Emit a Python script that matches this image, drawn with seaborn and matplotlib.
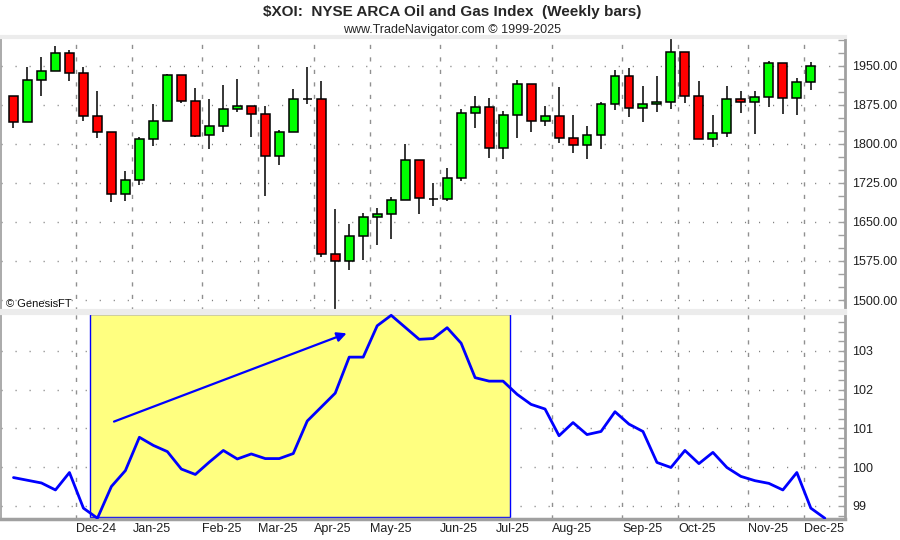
import numpy as np
import pandas as pd
import matplotlib
matplotlib.use('Agg')
import matplotlib.pyplot as plt
import seaborn as sns
from matplotlib.ticker import MultipleLocator, FormatStrFormatter, AutoMinorLocator
from matplotlib.patches import Rectangle

# weekly bars, week ending Friday
weeks = pd.date_range('2024-11-01', periods=59, freq='W-FRI')

opens = [1891.3, 1841.4, 1921.9, 1939.2, 1973.7, 1935.4, 1852.9, 1822.2, 1703.3, 1730.1,
         1808.8, 1843.9, 1932.2, 1881.7, 1816.4, 1833.7, 1866.3, 1872.1, 1856.7, 1776.1,
         1822.2, 1885.5, 1885.5, 1588.2, 1574.8, 1622.7, 1659.1, 1664.9, 1691.8, 1768.5,
         1694.3, 1693.1, 1734.0, 1858.7, 1870.2, 1791.5, 1854.8, 1914.3, 1843.3, 1852.9,
         1810.7, 1797.3, 1816.4, 1876.5, 1929.6, 1868.2, 1875.9, 1880.4, 1975.7, 1891.3,
         1808.8, 1820.3, 1885.5, 1879.7, 1889.3, 1954.6, 1887.4, 1918.1]
closes = [1841.4, 1921.9, 1939.2, 1973.7, 1935.4, 1852.9, 1822.2, 1703.3, 1730.1, 1808.8,
          1843.9, 1932.2, 1881.7, 1815.8, 1833.7, 1866.3, 1872.1, 1856.7, 1776.1, 1822.2,
          1885.5, 1885.5, 1588.2, 1574.8, 1622.7, 1659.1, 1664.9, 1691.8, 1768.5, 1695.0,
          1694.3, 1734.0, 1858.7, 1870.2, 1791.5, 1854.8, 1914.3, 1843.3, 1852.9, 1810.7,
          1797.3, 1816.4, 1876.5, 1929.6, 1868.2, 1875.9, 1880.4, 1975.7, 1891.3, 1808.8,
          1820.3, 1885.5, 1879.7, 1889.3, 1954.6, 1887.4, 1918.1, 1948.8]
highs = [1891.3, 1947.5, 1966.7, 1987.8, 1980.1, 1947.5, 1901.5, 1822.2, 1748.0, 1812.6,
         1876.5, 1934.7, 1932.2, 1906.6, 1886.1, 1913.0, 1923.9, 1872.1, 1872.1, 1826.7,
         1905.3, 1947.5, 1920.7, 1674.5, 1646.4, 1667.5, 1676.4, 1697.5, 1800.5, 1768.5,
         1725.6, 1753.8, 1867.0, 1891.9, 1887.4, 1863.1, 1922.6, 1914.3, 1872.7, 1908.5,
         1854.8, 1833.7, 1881.0, 1941.1, 1945.6, 1911.1, 1930.3, 2003.1, 1975.7, 1920.7,
         1855.5, 1911.1, 1901.5, 1901.5, 1958.4, 1954.6, 1925.8, 1956.5]
lows = [1831.1, 1841.4, 1892.5, 1939.2, 1921.3, 1844.6, 1812.0, 1687.3, 1689.2, 1719.9,
        1796.6, 1843.9, 1879.1, 1813.9, 1790.9, 1823.5, 1861.8, 1813.9, 1698.8, 1760.2,
        1822.2, 1876.5, 1581.8, 1476.0, 1556.9, 1576.7, 1604.8, 1616.3, 1691.8, 1664.9,
        1681.5, 1691.1, 1728.9, 1830.5, 1773.6, 1771.7, 1812.0, 1823.5, 1835.0, 1801.1,
        1783.2, 1771.7, 1790.9, 1864.4, 1852.2, 1842.7, 1861.8, 1867.6, 1879.1, 1808.8,
        1794.7, 1812.6, 1859.9, 1819.6, 1871.4, 1858.0, 1856.1, 1904.0]

# seasonal line in the lower pane (one week longer than the bars)
seasonal = [99.73, 99.66, 99.59, 99.41, 99.86, 98.94, 98.68, 99.50, 99.91, 100.77,
            100.56, 100.40, 99.95, 99.81, 100.13, 100.43, 100.21, 100.34, 100.22, 100.22,
            100.35, 101.19, 101.55, 101.91, 102.84, 102.84, 103.65, 103.92, 103.61, 103.30,
            103.32, 103.60, 103.20, 102.31, 102.22, 102.22, 101.88, 101.62, 101.50, 100.81,
            101.15, 100.84, 100.92, 101.43, 101.11, 100.92, 100.12, 99.99, 100.43, 100.09,
            100.38, 99.99, 99.76, 99.65, 99.58, 99.41, 99.86, 98.94, 98.68]

shade_start, shade_end = 5.47, 35.47
arrow_from = (7, 101.15)
arrow_to = (24, 103.48)

sns.set_theme(style='white')
plt.rcParams['font.family'] = ['Liberation Sans', 'DejaVu Sans']

fig = plt.figure(figsize=(9, 5.4), dpi=100)
ax1 = fig.add_axes([0.001, 0.4241, 0.938, 0.5074])
ax2 = fig.add_axes([0.001, 0.0389, 0.938, 0.3815], sharex=ax1)

# candles
o = np.array(opens)
c = np.array(closes)
xb = np.arange(len(o))
cols = np.where(c >= o, '#00ff00', '#ff0000')
ax1.vlines(xb, lows, highs, color='black', lw=1.1, zorder=2)
ax1.bar(xb, c - o, bottom=o, width=0.64, color=cols, edgecolor='black', linewidth=1.1, zorder=3)
ax1.set_ylim(1479, 2005)
ax1.yaxis.set_major_locator(MultipleLocator(75))
ax1.yaxis.set_minor_locator(MultipleLocator(25))
ax1.yaxis.set_major_formatter(FormatStrFormatter('%.2f'))

# month boundaries
bounds, labels = [], []
for i in range(1, len(o)):
    if weeks[i].month != weeks[i - 1].month:
        bounds.append(i - 0.5)
        labels.append(weeks[i].strftime('%b-%y'))

# lower pane
xs = np.arange(len(seasonal))
ax2.add_patch(Rectangle((shade_start, 0.008), shade_end - shade_start, 0.985,
                        transform=ax2.get_xaxis_transform(), facecolor='#ffff80',
                        edgecolor='#0000ff', lw=1, zorder=1))
sns.lineplot(x=xs, y=seasonal, ax=ax2, color='#0000ff', lw=2, zorder=3)
ax2.annotate('', xy=arrow_to, xytext=arrow_from, zorder=4,
             arrowprops=dict(arrowstyle='-|>', color='#0000ff', lw=1.6, mutation_scale=14))
ax2.set_ylim(98.66, 103.98)
ax2.yaxis.set_major_locator(MultipleLocator(1))
ax2.yaxis.set_minor_locator(AutoMinorLocator(4))
ax2.yaxis.set_major_formatter(FormatStrFormatter('%d'))
ax2.set_xlabel('')
ax2.set_ylabel('')

ax1.set_xlim(-0.9, 59.45)
ax2.set_xticks(bounds)
ax2.set_xticklabels(labels, ha='left')

for ax in (ax1, ax2):
    ax.set_facecolor('white')
    ax.set_axisbelow(True)
    ax.yaxis.tick_right()
    ax.tick_params(axis='y', which='both', direction='in', length=5, width=1,
                   color='#a0a0a0', labelsize=9, pad=5, labelcolor='#202020')
    ax.grid(axis='y', which='major', color='#808080', lw=1, linestyle=(0, (0.8, 9.3)))
    ax.grid(axis='x', color='#909090', lw=1, linestyle=(0, (3, 6)))
    ax.spines['left'].set_color('#a0a0a0')
    ax.spines['right'].set_color('#a0a0a0')
    ax.spines['right'].set_linewidth(2)
    ax.spines['top'].set_color('#ececec')
    ax.spines['top'].set_linewidth(3)

ax1.spines['bottom'].set_color('#ececec')
ax1.spines['bottom'].set_linewidth(3)
ax2.spines['bottom'].set_color('#a0a0a0')
ax2.spines['bottom'].set_linewidth(2.5)
ax1.tick_params(axis='x', which='both', length=0, labelbottom=False)
ax2.tick_params(axis='x', length=0, labelsize=9, pad=3, labelcolor='#202020')

ax1.text(0.006, 0.026, '\u00a9 GenesisFT', transform=ax1.transAxes, fontsize=8,
         va='center', ha='left', color='#101010')

fig.text(0.502, 0.978, '$XOI:  NYSE ARCA Oil and Gas Index  (Weekly bars)',
         ha='center', va='center', fontsize=11, fontweight='bold')
fig.text(0.502, 0.944, 'www.TradeNavigator.com \u00a9 1999-2025',
         ha='center', va='center', fontsize=9)

fig.savefig('out.png', dpi=100)
